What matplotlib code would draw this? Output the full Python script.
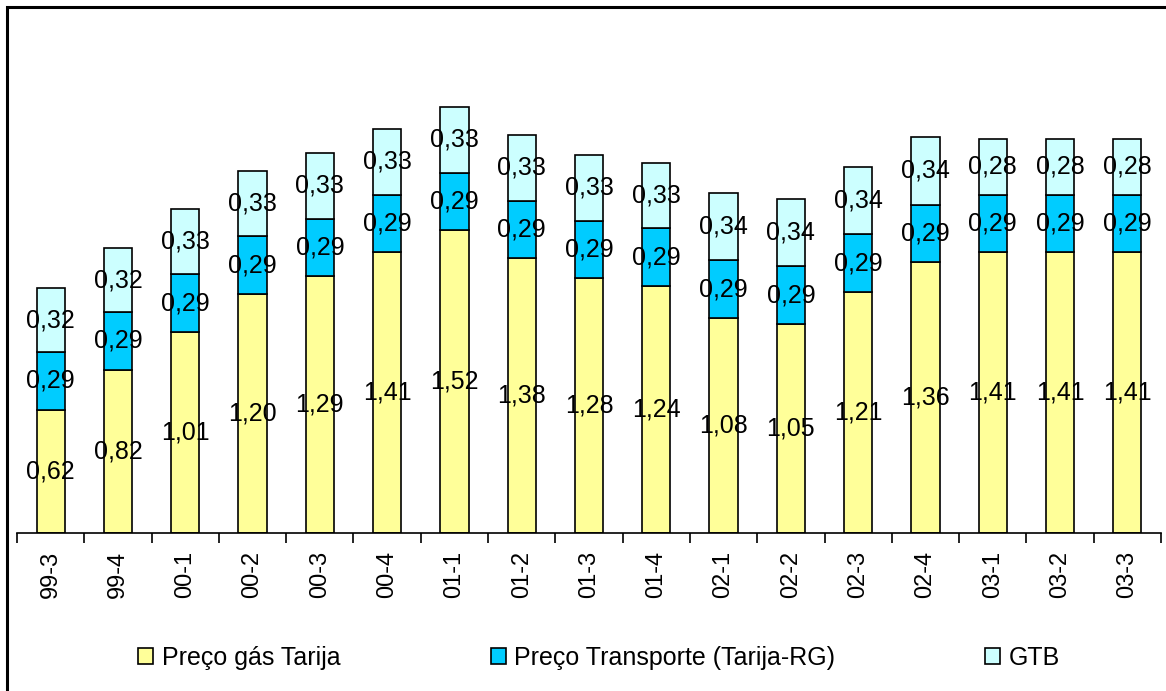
import numpy as np
import matplotlib
matplotlib.use('Agg')
from matplotlib import pyplot as plt
from matplotlib.patches import Rectangle

plt.rcParams['font.family'] = ['Liberation Sans', 'DejaVu Sans']

trimestres = ['99-3', '99-4', '00-1', '00-2', '00-3', '00-4', '01-1', '01-2', '01-3',
              '01-4', '02-1', '02-2', '02-3', '02-4', '03-1', '03-2', '03-3']
gas_tarija = [0.62, 0.82, 1.01, 1.20, 1.29, 1.41, 1.52, 1.38, 1.28, 1.24, 1.08, 1.05,
              1.21, 1.36, 1.41, 1.41, 1.41]
transporte = [0.29] * 17
gtb = [0.32, 0.32, 0.33, 0.33, 0.33, 0.33, 0.33, 0.33, 0.33, 0.33, 0.34, 0.34,
           0.34, 0.34, 0.28, 0.28, 0.28]

series = [
    ('Preço gás Tarija', gas_tarija, '#FFFF99'),
    ('Preço Transporte (Tarija-RG)', transporte, '#00CCFF'),
    ('GTB', gtb, '#CCFFFF'),
]

fig = plt.figure(figsize=(11.66, 6.91), dpi=100)
ax = fig.add_axes([0.0146, 0.2287, 0.9811, 0.72])

x = np.arange(len(trimestres))
base = np.zeros(len(trimestres))
for nome, valores, cor in series:
    v = np.array(valores)
    ax.bar(x, v, bottom=base, width=0.42, color=cor, edgecolor='black',
           linewidth=1.2, label=nome)
    for xi, b, vi in zip(x, base, v):
        ax.text(xi, b + vi / 2, f'{vi:.2f}'.replace('.', ','), ha='center',
                va='center', fontsize=18)
    base = base + v

ax.set_xlim(-0.5, len(trimestres) - 0.5)
ax.set_ylim(0, 2.5)
for s in ['top', 'right', 'left']:
    ax.spines[s].set_visible(False)
ax.spines['bottom'].set_linewidth(1.2)
ax.set_yticks([])
ax.set_xticks(x)
ax.set_xticklabels(trimestres, rotation=90, fontsize=17)
ax.tick_params(axis='x', which='major', length=0, pad=13)
ax.set_xticks(np.arange(-0.5, len(trimestres)), minor=True)
ax.tick_params(axis='x', which='minor', length=7, width=1.2, direction='out')

fig.legend(loc='center', bbox_to_anchor=(0.514, 0.048), ncol=3, frameon=False,
           fontsize=18, handlelength=0.6, handleheight=0.6, handletextpad=0.35,
           columnspacing=6.0)

# moldura da figura
fig.patches.append(Rectangle((0.006, -0.2), 1.2, 1.19, transform=fig.transFigure,
                             fill=False, edgecolor='black', linewidth=2.2))

fig.savefig('out.png', dpi=100)
